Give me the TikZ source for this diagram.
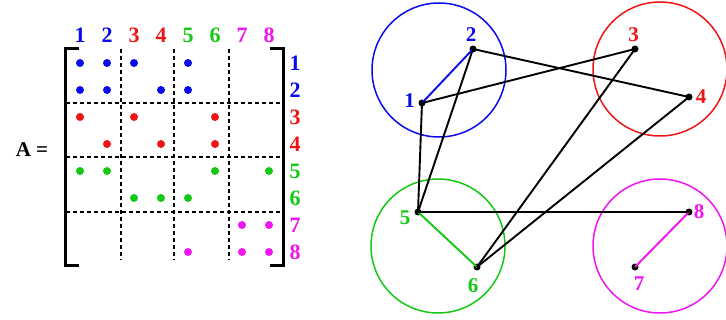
\documentclass[tikz,border=0pt]{standalone}
\usepackage{fontspec}
\setmainfont{Liberation Serif}
\definecolor{grpblue}{RGB}{10,10,235}
\definecolor{grpred}{RGB}{240,20,20}
\definecolor{grpgreen}{RGB}{20,200,20}
\definecolor{grpmag}{RGB}{240,20,240}

\begin{document}
\begin{tikzpicture}[
    x=1pt,
    y=-1pt,
    vtx/.style={circle, fill=black, inner sep=0pt, minimum size=7pt},
    lbl/.style={font=\fontsize{22}{22}\selectfont\bfseries, inner sep=1pt},
    glbl/.style={font=\fontsize{21}{21}\selectfont\bfseries, inner sep=0pt},
    edge/.style={line width=1.9pt},
    grp/.style={line width=1.5pt}
]
    \useasboundingbox (0,0) rectangle (726,320);
    % matrix
    \node[font=\fontsize{21}{21}\selectfont\bfseries] (eqA) at (32,150) {A =};
    \draw[line width=3pt] (79,49) -- (65,49) -- (65,266) -- (79,266);
    \draw[line width=3pt] (270,49) -- (283,49) -- (283,266) -- (270,266);
    \foreach \x in {121, 174, 229} {
        \draw[dashed, line width=1.2pt, dash pattern=on 4pt off 3pt] (\x,49) -- (\x,260);
    }
    \foreach \y in {103, 157, 212} {
        \draw[dashed, line width=1.2pt, dash pattern=on 4pt off 3pt] (66,\y) -- (280,\y);
    }
    \foreach \k/\col in {1/grpblue, 2/grpblue, 3/grpred, 4/grpred, 5/grpgreen, 6/grpgreen, 7/grpmag, 8/grpmag} {
        \node[lbl, text=\col] (col\k) at ({80+27*(\k-1)}, 35) {\k};
        \node[lbl, text=\col] (row\k) at (295, {63.5+27*(\k-1)}) {\k};
    }
    \foreach \r/\c/\col in {1/1/grpblue, 1/2/grpblue, 1/3/grpblue, 1/5/grpblue,
                            2/1/grpblue, 2/2/grpblue, 2/4/grpblue, 2/5/grpblue,
                            3/1/grpred, 3/3/grpred, 3/6/grpred,
                            4/2/grpred, 4/4/grpred, 4/6/grpred,
                            5/1/grpgreen, 5/2/grpgreen, 5/6/grpgreen, 5/8/grpgreen,
                            6/3/grpgreen, 6/4/grpgreen, 6/5/grpgreen,
                            7/7/grpmag, 7/8/grpmag,
                            8/5/grpmag, 8/7/grpmag, 8/8/grpmag} {
        \fill[\col] ({80+27*(\c-1)}, {63+27*(\r-1)}) circle (4pt);
    }

    % graph
    \draw[grp, grpblue] (439,70) circle (67);
    \draw[grp, grpred] (660,69) circle (67);
    \draw[grp, grpgreen] (438,246) circle (67);
    \draw[grp, grpmag] (660,246) circle (67);
    \node[vtx] (v1) at (422,103) {};
    \node[vtx] (v2) at (473,49) {};
    \node[vtx] (v3) at (635,49) {};
    \node[vtx] (v4) at (689,97) {};
    \node[vtx] (v5) at (418,212) {};
    \node[vtx] (v6) at (477,267) {};
    \node[vtx] (v7) at (635,267) {};
    \node[vtx] (v8) at (689,212) {};
    \node[glbl, text=grpblue] (n1) at (409.5,100.5) {1};
    \node[glbl, text=grpblue] (n2) at (471,35) {2};
    \node[glbl, text=grpred] (n3) at (633.5,35) {3};
    \node[glbl, text=grpred] (n4) at (701,97) {4};
    \node[glbl, text=grpgreen] (n5) at (405,217.5) {5};
    \node[glbl, text=grpgreen] (n6) at (473,285.5) {6};
    \node[glbl, text=grpmag] (n7) at (639,283.5) {7};
    \node[glbl, text=grpmag] (n8) at (699,211.5) {8};
    \draw[edge, grpblue] (v1.center) -- (v2.center);
    \draw[edge, grpgreen] (v5.center) -- (v6.center);
    \draw[edge, grpmag] (v7.center) -- (v8.center);
    \draw[edge] (v1.center) -- (v3.center);
    \draw[edge] (v2.center) -- (v4.center);
    \draw[edge] (v1.center) -- (v5.center);
    \draw[edge] (v2.center) -- (v5.center);
    \draw[edge] (v3.center) -- (v6.center);
    \draw[edge] (v4.center) -- (v6.center);
    \draw[edge] (v5.center) -- (v8.center);
\end{tikzpicture}
\end{document}
